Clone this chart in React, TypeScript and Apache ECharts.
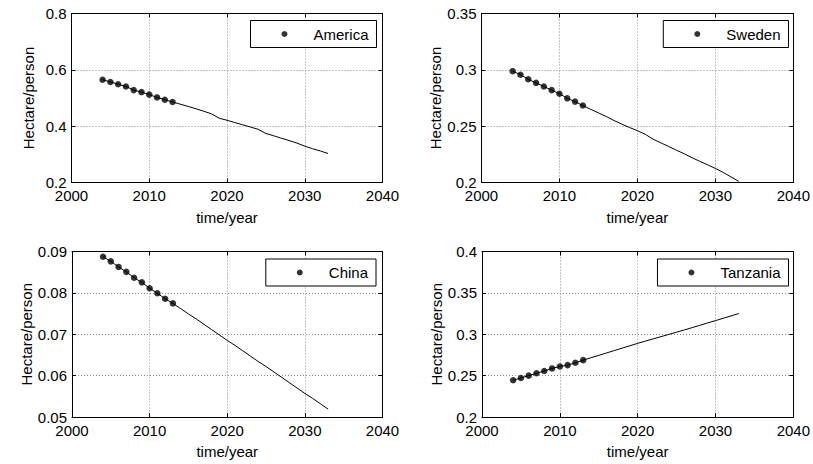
import React, { useEffect, useRef } from "react";
import * as echarts from "echarts";

// ---- data ----
const countries = ["America", "Sweden", "China", "Tanzania"];
const obsYears = [2004, 2005, 2006, 2007, 2008, 2009, 2010, 2011, 2012, 2013];
const projYears = [2014, 2015, 2016, 2017, 2018, 2019, 2020, 2021, 2022, 2023, 2024, 2025, 2026, 2027, 2028, 2029, 2030, 2031, 2032, 2033];

const americaObs = [0.565, 0.557, 0.549, 0.541, 0.528, 0.521, 0.512, 0.502, 0.494, 0.486];
const americaProj = [0.478, 0.47, 0.462, 0.453, 0.444, 0.428, 0.421, 0.413, 0.405, 0.397, 0.389, 0.374, 0.366, 0.357, 0.349, 0.34, 0.329, 0.32, 0.312, 0.303];

const swedenObs = [0.2988, 0.2956, 0.2916, 0.2884, 0.2852, 0.282, 0.2788, 0.2747, 0.2718, 0.2683];
const swedenProj = [0.265, 0.2618, 0.2586, 0.255, 0.2518, 0.2488, 0.246, 0.2428, 0.2385, 0.2352, 0.232, 0.2287, 0.2255, 0.222, 0.2188, 0.2157, 0.2125, 0.209, 0.205, 0.201];

const chinaObs = [0.08873, 0.08762, 0.08627, 0.08508, 0.08365, 0.08254, 0.08111, 0.07992, 0.07857, 0.07746];
const chinaProj = [0.0762, 0.0749, 0.0737, 0.0724, 0.0711, 0.0698, 0.0685, 0.0673, 0.066, 0.0647, 0.0634, 0.0622, 0.0609, 0.0596, 0.0583, 0.057, 0.0557, 0.0545, 0.0532, 0.0519];

const tanzaniaObs = [0.2444, 0.2472, 0.25, 0.2528, 0.2556, 0.2587, 0.2611, 0.2627, 0.2655, 0.2687];
const tanzaniaProj = [0.2716, 0.2745, 0.2774, 0.2803, 0.2832, 0.2861, 0.289, 0.2917, 0.2944, 0.2971, 0.2998, 0.3025, 0.3052, 0.308, 0.3108, 0.3137, 0.3165, 0.3193, 0.3222, 0.325];

const obsValues = [americaObs, swedenObs, chinaObs, tanzaniaObs];
const projValues = [americaProj, swedenProj, chinaProj, tanzaniaProj];

const xRange = [2000, 2040, 10];
const yRanges = [
  [0.2, 0.8, 0.2],
  [0.2, 0.35, 0.05],
  [0.05, 0.09, 0.01],
  [0.2, 0.4, 0.05],
];

const xName = "time/year";
const yName = "Hectare/person";

// ---- layout ----
const W = 813;
const H = 464;
const grids = [
  { left: 71.5, top: 13.5, width: 311, height: 169 },
  { left: 481.5, top: 13.5, width: 313.5, height: 169 },
  { left: 72, top: 251.5, width: 310.5, height: 165.5 },
  { left: 482, top: 251.5, width: 313, height: 165.5 },
];
const legendPos = [
  { right: 436.5, top: 20.5 },
  { right: 24.5, top: 20.5 },
  { right: 437, top: 259 },
  { right: 24.5, top: 259 },
];

const FONT = "'Liberation Sans', Arial, Helvetica, sans-serif";

function buildOption() {
  const grid: any[] = [];
  const xAxis: any[] = [];
  const yAxis: any[] = [];
  const series: any[] = [];
  const legend: any[] = [];

  countries.forEach((name, i) => {
    grid.push({ ...grids[i], containLabel: false });
    const [yMin, yMax, yStep] = yRanges[i];
    const tick = { show: true, inside: true, length: 4, lineStyle: { color: "#000", width: 1 } };
    const axisLine = { show: true, onZero: false, lineStyle: { color: "#000", width: 1 } };
    const split = { show: true, lineStyle: { color: "#8a8a8a", width: 1, type: [1, 2] } };
    xAxis.push({
      type: "value",
      gridIndex: i,
      position: "bottom",
      min: xRange[0],
      max: xRange[1],
      interval: xRange[2],
      axisLine,
      axisTick: tick,
      splitLine: split,
      axisLabel: { color: "#000", fontSize: 15, lineHeight: 14, fontFamily: FONT, margin: 6, formatter: (v: number) => String(v) },
      name: xName,
      nameLocation: "middle",
      nameGap: 27,
      nameTextStyle: { color: "#000", fontSize: 15, fontFamily: FONT },
    });
    xAxis.push({
      type: "value",
      gridIndex: i,
      position: "top",
      min: xRange[0],
      max: xRange[1],
      interval: xRange[2],
      axisLine,
      axisTick: tick,
      splitLine: { show: false },
      axisLabel: { show: false },
    });
    yAxis.push({
      type: "value",
      gridIndex: i,
      position: "left",
      min: yMin,
      max: yMax,
      interval: yStep,
      axisLine,
      axisTick: tick,
      splitLine: split,
      axisLabel: { color: "#000", fontSize: 15, lineHeight: 12, fontFamily: FONT, margin: 5 },
      name: yName,
      nameLocation: "middle",
      nameGap: 36,
      nameTextStyle: { color: "#000", fontSize: 15, fontFamily: FONT },
    });
    yAxis.push({
      type: "value",
      gridIndex: i,
      position: "right",
      min: yMin,
      max: yMax,
      interval: yStep,
      axisLine,
      axisTick: tick,
      splitLine: { show: false },
      axisLabel: { show: false },
    });

    const obs = obsValues[i].map((v, k) => [obsYears[k], v]);
    const proj = projValues[i].map((v, k) => [projYears[k], v]);
    series.push({
      type: "line",
      name: name + " trend",
      xAxisIndex: 2 * i,
      yAxisIndex: 2 * i,
      data: obs.concat(proj),
      showSymbol: false,
      symbol: "none",
      lineStyle: { color: "#000", width: 1 },
      silent: true,
    });
    series.push({
      type: "scatter",
      name,
      xAxisIndex: 2 * i,
      yAxisIndex: 2 * i,
      data: obs,
      symbol: "circle",
      symbolSize: 6.5,
      itemStyle: { color: "#000" },
    });

    legend.push({
      show: true,
      data: [{ name, icon: "circle" }],
      right: legendPos[i].right,
      top: legendPos[i].top,
      orient: "horizontal",
      backgroundColor: "#fff",
      borderColor: "#000",
      borderWidth: 1,
      padding: [5, 8, 5, 31],
      itemWidth: 6,
      itemHeight: 6,
      selectedMode: false,
      textStyle: { color: "#000", fontSize: 15, fontFamily: FONT, padding: [0, 0, 0, 21], lineHeight: 17 },
    });
  });

  return {
    animation: false,
    backgroundColor: "#fff",
    textStyle: { fontFamily: FONT },
    grid,
    xAxis,
    yAxis,
    legend,
    series,
  };
}

export default function App() {
  const ref = useRef<HTMLDivElement>(null);
  useEffect(() => {
    document.body.style.margin = "0";
    if (!ref.current) return;
    const chart = echarts.init(ref.current, undefined, { renderer: "svg" });
    chart.setOption(buildOption() as any);
    return () => chart.dispose();
  }, []);
  return <div ref={ref} style={{ width: W, height: H, position: "absolute", left: 0, top: 0 }} />;
}
